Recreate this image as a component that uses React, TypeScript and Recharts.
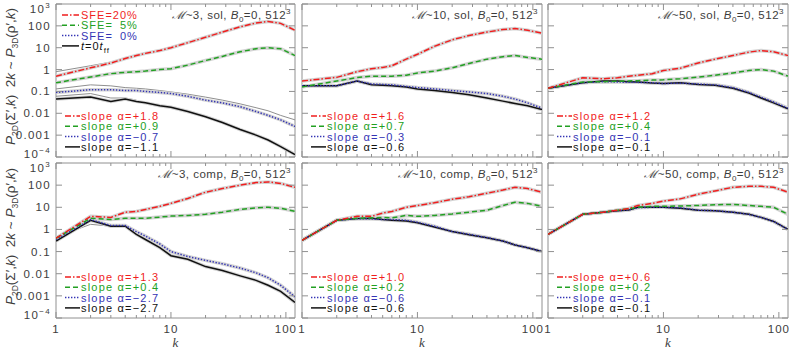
import React from "react"
import { LineChart, Line, XAxis, YAxis, ReferenceArea } from "recharts"

// wavenumbers sampled along every curve
const K = [1, 2, 3, 4, 5, 6, 8, 10, 14, 20, 28, 40, 55, 70, 90, 120]

// M~3, sol
const m3SolRed = [0.5, 1.2, 2.0, 3.2, 4.4, 5.5, 7.4, 10, 17, 30, 52, 90, 135, 160, 130, 63]
const m3SolGreen = [0.25, 0.46, 0.65, 0.75, 0.8, 0.85, 1.0, 1.1, 1.6, 2.6, 4.0, 6.5, 9, 10, 9, 4.4]
const m3SolBlue = [0.09, 0.12, 0.12, 0.11, 0.11, 0.1, 0.09, 0.08, 0.06, 0.04, 0.03, 0.02, 0.012, 0.008, 0.005, 0.0025]
const m3SolBlack = [0.045, 0.055, 0.035, 0.045, 0.035, 0.03, 0.022, 0.019, 0.012, 0.007, 0.0038, 0.0018, 0.001, 0.0006, 0.0003, 0.00013]
const m3SolGrayA = [0.8, 1.5, 2.2, 3.3, 4.4, null, null, null, null, null, null, null, null, null, null, null]
const m3SolGrayB = [0.13, 0.2, 0.18, 0.15, 0.14, 0.13, 0.11, 0.095, 0.075, 0.055, 0.04, 0.027, 0.018, 0.013, 0.008, 0.005]
const m3SolGrayC = [0.06, 0.08, 0.05, 0.05, 0.04, null, null, null, null, null, null, null, null, null, null, null]

// M~10, sol
const m10SolRed = [0.3, 0.44, 0.8, 1.1, 1.25, 1.5, 3.0, 5, 11.5, 23, 36, 52, 68, 75, 63, 46]
const m10SolGreen = [0.16, 0.3, 0.43, 0.5, 0.5, 0.5, 0.55, 0.7, 0.85, 1.2, 1.9, 3.0, 3.9, 4.4, 3.6, 3.0]
const m10SolBlue = [0.18, 0.18, 0.3, 0.22, 0.21, 0.2, 0.17, 0.15, 0.13, 0.11, 0.095, 0.08, 0.06, 0.045, 0.03, 0.017]
const m10SolBlack = [0.18, 0.18, 0.3, 0.2, 0.19, 0.18, 0.16, 0.13, 0.11, 0.09, 0.07, 0.05, 0.036, 0.028, 0.022, 0.015]

// M~50, sol
const m50SolRed = [0.14, 0.42, 0.38, 0.42, 0.5, 0.55, 0.65, 0.9, 1.15, 2.0, 3.0, 4.4, 6.3, 7.4, 6.5, 4.4]
const m50SolGreen = [0.14, 0.27, 0.28, 0.29, 0.3, 0.31, 0.33, 0.34, 0.38, 0.45, 0.55, 0.7, 0.9, 1.0, 0.85, 0.5]
const m50SolBlue = [0.14, 0.25, 0.28, 0.27, 0.26, 0.26, 0.25, 0.23, 0.24, 0.22, 0.2, 0.15, 0.09, 0.055, 0.033, 0.017]
const m50SolBlack = [0.14, 0.25, 0.3, 0.3, 0.28, 0.27, 0.24, 0.23, 0.25, 0.21, 0.19, 0.14, 0.085, 0.05, 0.03, 0.016]

// M~3, comp
const m3CompRed = [0.4, 3.9, 3.5, 6, 6.5, 8, 11, 15, 25, 48, 70, 100, 130, 140, 120, 80]
const m3CompGreen = [0.4, 3.2, 2.8, 3.2, 3.2, 3.2, 3.6, 4.0, 4.3, 4.8, 6, 8, 9.5, 10, 9, 6.6]
const m3CompBlue = [0.35, 2.8, 1.5, 1.5, 0.8, 0.5, 0.22, 0.1, 0.06, 0.04, 0.028, 0.018, 0.011, 0.0066, 0.003, 0.0009]
const m3CompBlack = [0.3, 2.6, 1.4, 1.4, 0.6, 0.35, 0.15, 0.065, 0.045, 0.021, 0.014, 0.008, 0.005, 0.003, 0.0016, 0.0005]
const m3CompGrayA = [0.45, 1.7, 1.4, 1.4, 0.7, 0.45, 0.2, 0.1, 0.045, null, null, null, null, null, null, null]

// M~10, comp
const m10CompRed = [0.32, 2.6, 3.9, 3.9, 5.5, 6.5, 10, 12, 16, 23, 30, 43, 60, 80, 70, 48]
const m10CompGreen = [0.32, 2.6, 3.2, 3.3, 3.5, 3.3, 4.3, 3.9, 4.3, 5, 6, 7.4, 12, 17, 15, 11]
const m10CompBlue = [0.32, 2.6, 3.0, 3.0, 2.8, 2.8, 2.6, 2.1, 1.4, 0.8, 0.6, 0.43, 0.3, 0.2, 0.15, 0.1]
const m10CompBlack = [0.32, 2.6, 3.1, 3.2, 2.8, 2.6, 2.4, 2.0, 1.3, 0.8, 0.58, 0.42, 0.3, 0.2, 0.15, 0.1]

// M~50, comp
const m50CompRed = [0.6, 4.8, 6, 7.4, 8.8, 12, 15, 19, 24, 39, 55, 80, 88, 88, 80, 48]
const m50CompGreen = [0.6, 4.8, 6, 7.4, 8.5, 10, 11, 11, 11.5, 12, 13, 13.5, 12, 11, 10, 4.8]
const m50CompBlue = [0.6, 4.8, 6, 7, 7.6, 9.5, 10, 10, 9.5, 7.4, 7, 6, 4.8, 3.5, 2.3, 1.0]
const m50CompBlack = [0.6, 4.8, 6, 7, 7.6, 10, 10, 10, 9, 7.4, 7, 6, 4.8, 3.5, 2.3, 1.0]

// fitted slopes per panel (red, green, blue, black)
const slopesM3Sol = ["+1.8", "+0.9", "\u22120.7", "\u22121.1"]
const slopesM10Sol = ["+1.6", "+0.7", "\u22120.3", "\u22120.6"]
const slopesM50Sol = ["+1.2", "+0.4", "\u22120.1", "\u22120.1"]
const slopesM3Comp = ["+1.3", "+0.4", "\u22122.7", "\u22122.7"]
const slopesM10Comp = ["+1.0", "+0.2", "\u22120.6", "\u22120.6"]
const slopesM50Comp = ["+0.6", "+0.2", "\u22120.1", "\u22120.1"]

const X_TICKS = [1, 2, 3, 4, 5, 6, 7, 8, 9, 10, 20, 30, 40, 50, 60, 70, 80, 90, 100]
const X_MAJOR = [1, 10, 100]
const Y_TICKS = [1e-4, 1e-3, 1e-2, 1e-1, 1, 10, 100, 1000]
const SFE_LABELS = ["SFE=20%", "SFE=\u20075%", "SFE=\u20070%"]

const FRAME = "#909090"
const TEXT = "#3c3c3c"
const COLORS = ["#f01e1e", "#22a022", "#3434b4", "#111111"]
const DASHES = ["6 2 1.5 2", "5 3", "1.4 1.6", undefined]
const HALO = "#d4d4d4"
const FONT = "'Liberation Sans', Arial, sans-serif"

const PADL = 52
const PADR = 8
const PADT = 6
const PADB = 22

const PANELS = [
  { left: 56, top: 4, w: 239, h: 153, mach: "3", drive: "sol", lines: [m3SolRed, m3SolGreen, m3SolBlue, m3SolBlack], grays: [m3SolGrayA, m3SolGrayB, m3SolGrayC], slopes: slopesM3Sol, xLab: false, yLab: true },
  { left: 302, top: 4, w: 240, h: 153, mach: "10", drive: "sol", lines: [m10SolRed, m10SolGreen, m10SolBlue, m10SolBlack], grays: [], slopes: slopesM10Sol, xLab: false, yLab: false },
  { left: 548, top: 4, w: 240, h: 153, mach: "50", drive: "sol", lines: [m50SolRed, m50SolGreen, m50SolBlue, m50SolBlack], grays: [], slopes: slopesM50Sol, xLab: false, yLab: false },
  { left: 56, top: 163, w: 239, h: 155, mach: "3", drive: "comp", lines: [m3CompRed, m3CompGreen, m3CompBlue, m3CompBlack], grays: [m3CompGrayA], slopes: slopesM3Comp, xLab: true, yLab: true },
  { left: 302, top: 163, w: 240, h: 155, mach: "10", drive: "comp", lines: [m10CompRed, m10CompGreen, m10CompBlue, m10CompBlack], grays: [], slopes: slopesM10Comp, xLab: true, yLab: false },
  { left: 548, top: 163, w: 240, h: 155, mach: "50", drive: "comp", lines: [m50CompRed, m50CompGreen, m50CompBlue, m50CompBlack], grays: [], slopes: slopesM50Comp, xLab: true, yLab: false },
]

function yLabel(v: number) {
  if (v === 1000) return <>10<tspan dy={-5} fontSize={8}>3</tspan></>
  if (v === 1e-4) return <>10<tspan dy={-5} fontSize={8}>{"\u22124"}</tspan></>
  const s: Record<number, string> = { 1e-3: "0.001", 1e-2: "0.01", 0.1: "0.1", 1: "1", 10: "10", 100: "100" }
  return s[v]
}

// the superscripted end labels sit a little inside the frame, as in the source
function yShift(v: number) {
  if (v === 1000) return 5
  if (v === 1e-4) return -3
  return 0
}

function Panel({ p }: { p: any }) {
  const data = K.map((k, i) => {
    const row: any = { k }
    p.lines.forEach((arr: number[], j: number) => (row["s" + j] = arr[i]))
    p.grays.forEach((arr: (number | null)[], j: number) => (row["g" + j] = arr[i]))
    return row
  })

  const xTick = (t: any) => {
    const v = t.payload.value
    const len = X_MAJOR.includes(v) ? 6 : 3
    return (
      <g>
        <line x1={t.x} x2={t.x} y1={t.y} y2={t.y - len} stroke={FRAME} />
        <line x1={t.x} x2={t.x} y1={t.y - p.h} y2={t.y - p.h + len} stroke={FRAME} />
        {p.xLab && X_MAJOR.includes(v) && (
          <text x={t.x} y={t.y + 15} textAnchor="middle" fontSize={11.5} letterSpacing={1} fill={TEXT} fontFamily={FONT}>{v}</text>
        )}
      </g>
    )
  }

  const yTick = (t: any) => {
    const v = t.payload.value
    return (
      <g>
        <line x1={t.x} x2={t.x + 6} y1={t.y} y2={t.y} stroke={FRAME} />
        <line x1={t.x + p.w} x2={t.x + p.w - 6} y1={t.y} y2={t.y} stroke={FRAME} />
        {p.yLab && (
          <text x={t.x - 5} y={t.y + 4 + yShift(v)} textAnchor="end" fontSize={11.5} letterSpacing={1.3} fill={TEXT} fontFamily={FONT}>{yLabel(v)}</text>
        )}
      </g>
    )
  }

  return (
    <div style={{ position: "absolute", left: p.left - PADL, top: p.top - PADT }}>
      <LineChart width={p.w + PADL + PADR} height={p.h + PADT + PADB} data={data} margin={{ left: PADL - 1, right: PADR, top: PADT, bottom: PADB - 1 }}>
        <XAxis dataKey="k" type="number" scale="log" domain={[1, 120]} allowDataOverflow ticks={X_TICKS} interval={0} height={1} tickSize={0} tickMargin={0} axisLine={false} tickLine={false} tick={xTick} />
        <YAxis type="number" scale="log" domain={[1e-4, 1000]} allowDataOverflow ticks={Y_TICKS} interval={0} width={1} tickSize={0} tickMargin={0} axisLine={false} tickLine={false} tick={yTick} />
        <ReferenceArea x1={1} x2={120} y1={1e-4} y2={1000} fill="none" stroke={FRAME} strokeWidth={1} />
        {p.grays.map((_: any, j: number) => (
          <Line key={"g" + j} dataKey={"g" + j} stroke="#8f8f8f" strokeWidth={1} dot={false} isAnimationActive={false} />
        ))}
        {[3, 2, 1, 0].map((j) => (
          <Line key={"h" + j} dataKey={"s" + j} stroke={HALO} strokeWidth={3.5} dot={false} isAnimationActive={false} />
        ))}
        {[3, 2, 1, 0].map((j) => (
          <Line key={"s" + j} dataKey={"s" + j} stroke={COLORS[j]} strokeWidth={1.5} strokeDasharray={DASHES[j]} dot={false} isAnimationActive={false} />
        ))}
      </LineChart>
    </div>
  )
}

function Overlay() {
  const txt = { fontFamily: FONT, fontSize: 11 }
  return (
    <svg width={789} height={350} style={{ position: "absolute", left: 0, top: 0, pointerEvents: "none" }}>
      {PANELS.map((p, i) => {
        const rowY = p.top + p.h - 41
        return (
          <g key={i}>
            <text x={p.left + p.w - 4} y={p.top + 15} textAnchor="end" fill={TEXT} letterSpacing={0.5} {...txt} fontSize={11.5}>
              <tspan fontFamily="'DejaVu Serif', serif" fontStyle="italic" fill={TEXT}>{"\u2133"}</tspan>
              {"~" + p.mach + ", " + p.drive + ", "}
              <tspan fontStyle="italic">B</tspan>
              <tspan dy={3} fontSize={8}>0</tspan>
              <tspan dy={-3}>=0, 512</tspan>
              <tspan dy={-5} fontSize={8}>3</tspan>
            </text>
            {p.slopes.map((s, j) => (
              <g key={j}>
                <line x1={p.left + 9} x2={p.left + 24} y1={rowY + j * 10.3} y2={rowY + j * 10.3} stroke={COLORS[j]} strokeWidth={1.5} strokeDasharray={DASHES[j]} />
                <text x={p.left + 25} y={rowY + j * 10.3 + 4} fill={COLORS[j]} letterSpacing={1.2} {...txt}>
                  {"slope \u03b1=" + s}
                </text>
              </g>
            ))}
            {p.xLab && (
              <text x={p.left + p.w / 2} y={347} textAnchor="middle" fontStyle="italic" fill={TEXT} fontFamily="'Liberation Serif', serif" fontSize={13}>k</text>
            )}
            {p.yLab && (
              <text transform={`translate(15,${p.top + p.h / 2 - 4}) rotate(-90)`} textAnchor="middle" fill={TEXT} {...txt} fontSize={13.5}>
                <tspan fontStyle="italic">P</tspan>
                <tspan dy={3} fontSize={8.5}>2D</tspan>
                <tspan dy={-3}>{"(\u03a3\u2032,"}</tspan>
                <tspan fontStyle="italic">k</tspan>
                <tspan>{")\u00a0\u00a02"}</tspan>
                <tspan fontStyle="italic">k</tspan>
                <tspan>{"\u00a0~\u00a0"}</tspan>
                <tspan fontStyle="italic">P</tspan>
                <tspan dy={3} fontSize={8.5}>3D</tspan>
                <tspan dy={-3}>{"(\u03c1\u2032,"}</tspan>
                <tspan fontStyle="italic">k</tspan>
                <tspan>)</tspan>
              </text>
            )}
          </g>
        )
      })}
      {SFE_LABELS.concat([""]).map((s, j) => (
        <g key={"sfe" + j}>
          <line x1={62} x2={79} y1={15 + j * 10.3} y2={15 + j * 10.3} stroke={COLORS[j]} strokeWidth={1.5} strokeDasharray={DASHES[j]} />
          <text x={81} y={19 + j * 10.3} fill={COLORS[j]} letterSpacing={1} {...txt}>
            {j < 3 ? s : (
              <>
                <tspan fontStyle="italic">t</tspan>=0<tspan fontStyle="italic">t</tspan>
                <tspan dy={3} fontSize={8}>ff</tspan>
              </>
            )}
          </text>
        </g>
      ))}
    </svg>
  )
}

export default function App() {
  return (
    <div style={{ position: "absolute", left: 0, top: 0, width: 789, height: 350, background: "#fff", fontFamily: FONT }}>
      {PANELS.map((p, i) => (
        <Panel key={i} p={p} />
      ))}
      <Overlay />
    </div>
  )
}
